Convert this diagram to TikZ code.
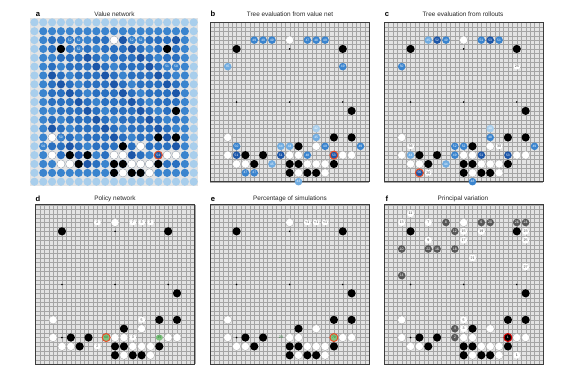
\documentclass[tikz,border=0pt]{standalone}
\usepackage{fontspec}
\setmainfont{Liberation Sans}
\usetikzlibrary{positioning}

\definecolor{boardbg}{RGB}{228,228,228}
\definecolor{gridgray}{RGB}{165,165,165}
\definecolor{edgegray}{RGB}{60,60,60}
\definecolor{bluevl}{RGB}{168,206,236}
\definecolor{bluel}{RGB}{112,172,225}
\definecolor{bluem}{RGB}{58,132,206}
\definecolor{bluemd}{RGB}{42,112,192}
\definecolor{blued}{RGB}{28,86,168}
\definecolor{movered}{RGB}{232,78,40}
\definecolor{pvgray}{RGB}{88,88,88}
\definecolor{probgreen}{RGB}{128,196,128}
\definecolor{darkgreen}{RGB}{40,120,50}

\tikzset{
  onboard/.style 2 args={shift={(#1-8.85,#2-8.85)}, x=8.85pt, y=-8.85pt},
  gridline/.style={gridgray, line width=0.2pt},
  boardedge/.style={edgegray, line width=0.9pt},
  bstone/.style={fill=black},
  wstone/.style={fill=white, draw=black!35, line width=0.3pt},
  val/.style={circle, inner sep=0pt, minimum size=7.6pt,
    font=\fontsize{3.3}{4}\selectfont, text=white},
  vvl/.style={val, fill=bluevl},
  vl/.style={val, fill=bluel},
  vm/.style={val, fill=bluem},
  vd/.style={val, fill=blued},
  best/.style={draw=movered, line width=1pt, minimum size=8pt},
  num/.style={rounded corners=1.6pt, fill=white, inner sep=0.5pt,
    minimum height=5.4pt, minimum width=6.4pt,
    font=\fontsize{3.6}{4}\selectfont, text=black!75},
  prob/.style={rounded corners=1.6pt, fill=probgreen, inner sep=0.5pt,
    minimum height=5.4pt, minimum width=6.4pt,
    font=\fontsize{3.6}{4}\selectfont, text=darkgreen},
  pvw/.style={circle, fill=white, inner sep=0pt, minimum size=7pt,
    font=\fontsize{3.6}{4}\selectfont, text=black!80},
  pvb/.style={circle, fill=pvgray, inner sep=0pt, minimum size=7.6pt,
    font=\fontsize{3.6}{4}\selectfont, text=white},
  title/.style={font=\fontsize{6.4}{7}\selectfont, text=black!85},
  panel/.style={font=\bfseries\fontsize{7.6}{8}\selectfont},
}

% empty board: ground, lines, edge, star points
\newcommand\goboard{%
  \fill[boardbg] (1,1) rectangle (19,19);
  \foreach \i in {1,1.5,...,19}{
    \draw[gridline] (\i,1) -- (\i,19);
    \draw[gridline] (1,\i) -- (19,\i);
  }
  \draw[boardedge] (1,1) rectangle (19,19);
  \foreach \c in {4,10,16}
    \foreach \r in {4,10,16}
      \fill (\c,\r) circle (0.9pt);
}
% the stones already on the board
\newcommand\basestones{%
  \foreach \c/\r in {10/3,3/14,13/15,3/16,10/16,11/16,16/16,17/16,
      4/17,5/17,12/17,13/17,14/17,11/18,14/18}
    \draw[wstone] (\c,\r) circle (4.1pt);
  \foreach \c/\r in {4/4,16/4,17/11,15/14,17/14,11/15,5/16,7/16,
      6/17,10/17,11/17,15/17,10/18,12/18,13/18}
    \fill[bstone] (\c,\r) circle (4.1pt);
}

\begin{document}
\begin{tikzpicture}[x=1pt, y=-1pt]
  \useasboundingbox (0,0) rectangle (581,374);
  \fill[white] (0,0) rectangle (581,374);

  % titles
  \node[panel] (la) at (38,14) {a};
  \node[title] (ta) at (114.5,14) {Value network};
  \node[panel] (lb) at (213,14) {b};
  \node[title] (tb) at (290,14) {Tree evaluation from value net};
  \node[panel] (lc) at (387,14) {c};
  \node[title] (tc) at (463,14) {Tree evaluation from rollouts};
  \node[panel] (ld) at (38,199) {d};
  \node[title] (td) at (115,199) {Policy network};
  \node[panel] (le) at (213,199) {e};
  \node[title] (te) at (290,199) {Percentage of simulations};
  \node[panel] (lf) at (387,199) {f};
  \node[title] (tf) at (463,199) {Principal variation};

  % a: value of every point
  \begin{scope}[onboard={34.4}{22.4}]
    \fill[boardbg] (0.5,0.5) rectangle (19.5,19.5);
    \foreach \c in {1,...,19}
      \foreach \r in {1,...,19}{
        \pgfmathtruncatemacro\d{min(\c-1,19-\c,\r-1,19-\r)}
        \pgfmathtruncatemacro\h{mod(\c*7+\r*11,6)}
        \ifnum\d=0 \def\col{bluevl}\else
          \ifnum\d=1 \def\col{bluem}\else
            \ifcase\h \def\col{bluemd}\or\def\col{bluemd}\or\def\col{blued}
            \or\def\col{bluemd}\or\def\col{bluem}\or\def\col{bluemd}\fi
          \fi
        \fi
        \fill[\col] (\c,\r) circle (4.1pt);
      }
    \basestones
    \foreach \c/\r/\v in {5/3/52,6/3/52,6/4/52,12/3/52,13/3/52,
        16/6/51,17/6/50,4/14/50,2/15/50}
      \node[vm] (a-\c-\r) at (\c,\r) {\v};
    \node[vd, best] (a-15-16) at (15,16) {54};
  \end{scope}

  % b: tree evaluation from value net
  \begin{scope}[onboard={210}{22.4}]
    \goboard
    \basestones
    \foreach \c/\r/\v in {6/3/49,7/3/49,8/3/49,12/3/47,13/3/48,14/3/49,
        16/6/49,4/15/50,14/15/49,18/15/49,12/16/48,5/18/47,6/18/47}
      \node[vm] (b-\c-\r) at (\c,\r) {\v};
    \foreach \c/\r/\v in {3/6/45,13/14/45,9/15/44,10/15/44,8/17/45,11/19/43}
      \node[vl] (b-\c-\r) at (\c,\r) {\v};
    \node[vvl] (b-13-13) at (13,13) {42};
    \foreach \c/\r/\v in {4/16/51,9/16/51}
      \node[vd] (b-\c-\r) at (\c,\r) {\v};
    \node[vd, best] (b-15-16) at (15,16) {53};
  \end{scope}

  % c: tree evaluation from rollouts
  \begin{scope}[onboard={384}{22.4}]
    \goboard
    \basestones
    \foreach \c/\r/\v in {8/3/49,12/3/51,14/3/51,3/6/50,13/14/48,
        9/15/52,10/15/52,18/15/49,9/16/49,11/19/48}
      \node[vm] (c-\c-\r) at (\c,\r) {\v};
    \foreach \c/\r/\v in {6/3/45,4/16/44,8/17/44}
      \node[vl] (c-\c-\r) at (\c,\r) {\v};
    \node[vvl] (c-13-13) at (13,13) {40};
    \foreach \c/\r/\v in {7/3/52,13/3/53,12/16/51,15/16/53}
      \node[vd] (c-\c-\r) at (\c,\r) {\v};
    \node[vd, best] (c-5-18) at (5,18) {56};
    \foreach \c/\r/\v in {16/6/25,4/15/36,14/15/30,6/18/20}
      \node[num] (c-\c-\r) at (\c,\r) {\v};
  \end{scope}

  % d: policy network
  \begin{scope}[onboard={35.4}{204.8}]
    \goboard
    \basestones
    \foreach \c/\r/\v in {8/3/2,12/3/7,13/3/3,14/3/3,13/14/5,12/16/3,8/17/2}
      \node[num] (d-\c-\r) at (\c,\r) {\v};
    \node[prob] (d-15-16) at (15,16) {35};
    \node[val, fill=probgreen, text=darkgreen, best] (d-9-16) at (9,16) {60};
  \end{scope}

  % e: percentage of simulations
  \begin{scope}[onboard={210}{204.8}]
    \goboard
    \basestones
    \foreach \c/\r/\v in {12/3/{<1},13/3/{<1},14/3/{<1}}
      \node[num] (e-\c-\r) at (\c,\r) {\v};
    \node[num, fill=none, text=darkgreen] (e-9-16) at (9,16) {20};
    \node[val, fill=probgreen, text=darkgreen, best] (e-15-16) at (15,16) {79};
  \end{scope}

  % f: principal variation
  \begin{scope}[onboard={384}{204.8}]
    \goboard
    \basestones
    \foreach \c/\r/\v in {4/2/11,3/3/13,6/3/7,10/4/15,12/4/19,17/4/23,
        6/5/9,10/5/17,17/5/25,11/7/21,17/8/27,10/14/5,10/15/3,16/18/1}
      \node[pvw] (f-\c-\r) at (\c,\r) {\v};
    \foreach \c/\r/\v in {8/3/8,12/3/6,13/3/20,16/3/26,17/3/24,9/4/12,
        3/6/10,6/6/22,7/6/16,9/6/18,3/9/14,9/15/4,9/16/2}
      \node[pvb] (f-\c-\r) at (\c,\r) {\v};
    \node[val, fill=black, draw=red!85!black, line width=1pt,
      minimum size=8pt] (f-15-16) at (15,16) {1};
  \end{scope}
\end{tikzpicture}
\end{document}
